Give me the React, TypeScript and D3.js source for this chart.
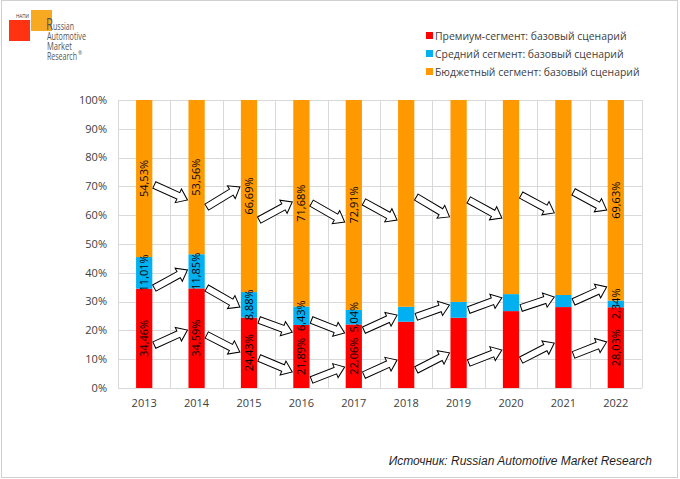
import React, { useEffect, useRef } from "react";
import * as d3 from "d3";

// market share by segment, base scenario, %
const years = ["2013", "2014", "2015", "2016", "2017", "2018", "2019", "2020", "2021", "2022"];
const premium = [34.46, 34.59, 24.43, 21.89, 22.06, 23.0, 24.4, 26.7, 28.1, 28.03];
const middle = [11.01, 11.85, 8.88, 6.43, 5.04, 5.2, 5.5, 5.9, 4.2, 2.34];
const budget = [54.53, 53.56, 66.69, 71.68, 72.91, 71.8, 70.1, 67.4, 67.7, 69.63];

// years that carry value labels on the bars
const labeledYears = ["2013", "2014", "2015", "2016", "2017", "2022"];

const seriesNames = [
  "Премиум-сегмент: базовый сценарий",
  "Средний сегмент: базовый сценарий",
  "Бюджетный сегмент: базовый сценарий",
];
const seriesColors = ["#ff0000", "#00b0f0", "#ff9900"];

// trend arrows between neighbouring years: [from %, to %] per gap
const premiumArrows = [[14.9, 20.1], [18.4, 12.5], [10.4, 5.6], [2.8, 7.3], [4.5, 9.7], [6.3, 12.2], [8.7, 13.2], [9.7, 15.6], [11.5, 16.0]];
const middleArrows = [[34.7, 41.0], [34.7, 28.1], [23.6, 19.4], [23.6, 19.1], [20.1, 25.3], [24.7, 28.8], [27.1, 31.3], [27.8, 31.6], [29.9, 35.1]];
const budgetArrows = [[70.5, 65.3], [62.8, 69.8], [58.3, 64.6], [64.2, 57.6], [64.6, 58.3], [66.3, 59.4], [65.3, 59.0], [67.0, 60.8], [68.1, 61.8]];

const yTicks = [0, 10, 20, 30, 40, 50, 60, 70, 80, 90, 100];

const FONT = "'Open Sans', 'Noto Sans', sans-serif";

const App = () => {
  const svgRef = useRef<SVGSVGElement | null>(null);

  useEffect(() => {
    const w = 680;
    const h = 479;
    const svg = d3.select(svgRef.current).attr("width", w).attr("height", h);
    svg.selectAll("*").remove();

    // outer frame
    svg.append("rect")
      .attr("x", 1.5).attr("y", 0.5)
      .attr("width", 676).attr("height", 477)
      .attr("fill", "#fff")
      .attr("stroke", "#d0d0d0");

    // logo
    const logo = svg.append("g");
    logo.append("rect").attr("x", 9).attr("y", 20).attr("width", 21).attr("height", 21).attr("fill", "#ff3311");
    logo.append("rect").attr("x", 31).attr("y", 10).attr("width", 21).attr("height", 21).attr("fill", "#f8a922");
    logo.append("text").attr("x", 16).attr("y", 18).attr("font-size", 4.5).attr("fill", "#333")
      .attr("font-family", FONT).attr("textLength", 13).attr("lengthAdjust", "spacingAndGlyphs").text("НАПИ");
    logo.append("text").attr("x", 46).attr("y", 30).attr("font-size", 17).attr("fill", "#555")
      .attr("font-family", FONT).attr("textLength", 7).attr("lengthAdjust", "spacingAndGlyphs").text("R");
    const logoLines = [
      { t: "ussian", x: 53, y: 30, len: 21 },
      { t: "Automotive", x: 47, y: 40, len: 39 },
      { t: "Market", x: 47, y: 50, len: 25 },
      { t: "Research", x: 47, y: 60, len: 30 },
    ];
    logoLines.forEach((l) => {
      logo.append("text").attr("x", l.x).attr("y", l.y).attr("font-size", 11).attr("fill", "#555")
        .attr("font-family", FONT).attr("textLength", l.len).attr("lengthAdjust", "spacingAndGlyphs").text(l.t);
    });
    logo.append("text").attr("x", 78).attr("y", 55).attr("font-size", 5).attr("fill", "#555")
      .attr("font-family", FONT).text("®");

    // scales
    const x = d3.scaleBand().domain(years).range([118, 642]).paddingInner(0).paddingOuter(0);
    const y = d3.scaleLinear().domain([0, 100]).range([388, 100]);
    const barW = x.bandwidth() * 0.31;

    // grid
    svg.append("g")
      .selectAll("line")
      .data(yTicks)
      .enter()
      .append("line")
      .attr("x1", 118).attr("x2", 642)
      .attr("y1", (d) => Math.round(y(d)) + 0.5).attr("y2", (d) => Math.round(y(d)) + 0.5)
      .attr("stroke", "#d9d9d9");

    const bounds = years.map((yr) => x(yr) as number).concat([642]);
    svg.append("g")
      .selectAll("line")
      .data(bounds)
      .enter()
      .append("line")
      .attr("x1", (d) => Math.round(d) + 0.5).attr("x2", (d) => Math.round(d) + 0.5)
      .attr("y1", 100).attr("y2", 388)
      .attr("stroke", "#d9d9d9");

    // y axis labels
    svg.append("g")
      .selectAll("text")
      .data(yTicks)
      .enter()
      .append("text")
      .attr("x", 107)
      .attr("y", (d) => y(d))
      .attr("dy", "0.35em")
      .attr("text-anchor", "end")
      .attr("font-size", 11)
      .attr("font-family", FONT)
      .attr("fill", "#404040")
      .text((d) => `${d}%`);

    // x axis labels
    svg.append("g")
      .selectAll("text")
      .data(years)
      .enter()
      .append("text")
      .attr("x", (d) => (x(d) as number) + x.bandwidth() / 2)
      .attr("y", 407)
      .attr("text-anchor", "middle")
      .attr("font-size", 11)
      .attr("font-family", FONT)
      .attr("fill", "#404040")
      .text((d) => d);

    // stacked bars
    const table = years.map((yr, i) => ({ year: yr, p: premium[i], m: middle[i], b: budget[i] }));
    const stack = d3.stack<any>().keys(["p", "m", "b"]);
    const layers = stack(table);

    layers.forEach((layer, li) => {
      const g = svg.append("g");
      g.selectAll("rect")
        .data(layer)
        .enter()
        .append("rect")
        .attr("x", (d) => (x(d.data.year) as number) + x.bandwidth() / 2 - barW / 2)
        .attr("y", (d) => y(d[1]))
        .attr("width", barW)
        .attr("height", (d) => y(d[0]) - y(d[1]))
        .attr("fill", seriesColors[li]);
    });

    // trend arrows
    const arrowSets = [premiumArrows, middleArrows, budgetArrows];
    const sw = 3.5;
    const hw = 7.5;
    const hl = 10;
    const ag = svg.append("g");
    arrowSets.forEach((set) => {
      set.forEach((a, i) => {
        const x0 = (x(years[i]) as number) + x.bandwidth() / 2 + barW / 2 + 2;
        const x1 = (x(years[i + 1]) as number) + x.bandwidth() / 2 - barW / 2 - 1;
        const y0 = y(a[0]);
        const y1 = y(a[1]);
        const len = Math.hypot(x1 - x0, y1 - y0);
        const ang = (Math.atan2(y1 - y0, x1 - x0) * 180) / Math.PI;
        const pts = [[0, -sw], [len - hl, -sw], [len - hl, -hw], [len, 0], [len - hl, hw], [len - hl, sw], [0, sw]];
        ag.append("polygon")
          .attr("points", pts.map((p) => p.join(",")).join(" "))
          .attr("transform", `translate(${x0},${y0}) rotate(${ang})`)
          .attr("fill", "#fff")
          .attr("stroke", "#000")
          .attr("stroke-width", 1)
          .attr("stroke-linejoin", "miter");
      });
    });

    // value labels
    const fmt = (v: number) => `${v.toFixed(2).replace(".", ",")}%`;
    layers.forEach((layer) => {
      svg.append("g")
        .selectAll("text")
        .data(layer.filter((d) => labeledYears.includes(d.data.year)))
        .enter()
        .append("text")
        .attr("transform", (d) => {
          const cx = (x(d.data.year) as number) + x.bandwidth() / 2;
          const cy = y((d[0] + d[1]) / 2);
          return `translate(${cx},${cy}) rotate(-90)`;
        })
        .attr("text-anchor", "middle")
        .attr("dy", "0.35em")
        .attr("font-size", 11)
        .attr("font-family", FONT)
        .attr("fill", "#000")
        .text((d) => fmt(d[1] - d[0]));
    });

    // legend
    const lg = svg.append("g");
    seriesNames.forEach((name, i) => {
      lg.append("rect").attr("x", 426).attr("y", 32 + i * 18).attr("width", 7).attr("height", 7).attr("fill", seriesColors[i]);
      lg.append("text").attr("x", 435).attr("y", 36 + i * 18).attr("dy", "0.35em")
        .attr("font-size", 10.4).attr("font-family", FONT).attr("fill", "#404040").text(name);
    });

    // source
    svg.append("text")
      .attr("x", 652).attr("y", 465)
      .attr("text-anchor", "end")
      .attr("font-size", 12)
      .attr("font-style", "italic")
      .attr("font-family", "'Liberation Sans', Arial, sans-serif")
      .attr("fill", "#1f1f1f")
      .text("Источник: Russian Automotive Market Research");
  }, []);

  return (
    <div>
      <svg ref={svgRef} style={{ position: "absolute", left: 0, top: 0 }}></svg>
    </div>
  );
};

export default App;
